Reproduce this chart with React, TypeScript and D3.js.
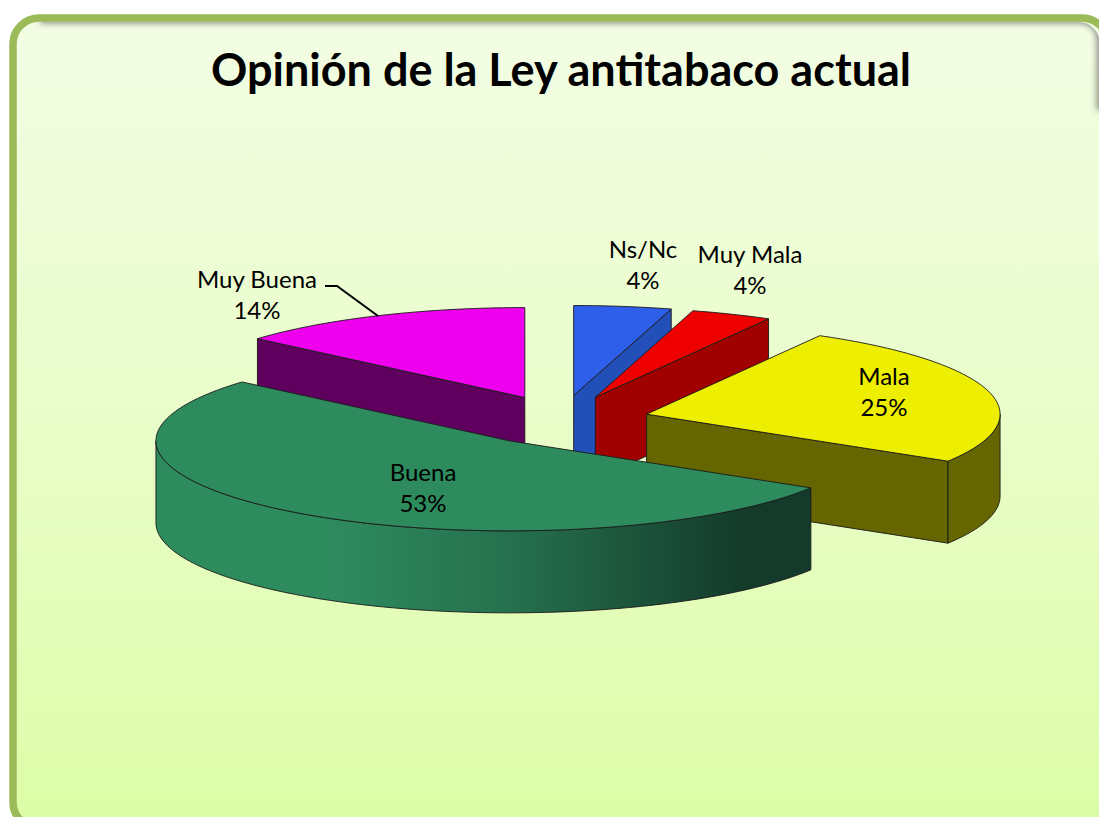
import React from "react";
import * as d3 from "d3";

const categories = ["Ns/Nc", "Muy Mala", "Mala", "Buena", "Muy Buena"];
const shownPercent = ["4%", "4%", "25%", "53%", "14%"];
const sliceValues = [4.45, 3.7, 25.6, 52.6, 13.65];
const topColors = ["#2e5fea", "#ee0000", "#eeee00", "#2e8b5e", "#ee00ee"];
const wallColors = ["#234fb8", "#a00000", "#666600", "#2e8b5e", "#5f005f"];
const drawOrder = [4, 0, 1, 2, 3];
const titleText = "Opinión de la Ley antitabaco actual";

// Projection of the tilted, exploded pie
const W = 1099, H = 817;
const CX = 561.4, CY = 420.5;
const RX = 353.5, RY = 90, DEPTH = 82;
const EX = 88, EY = 25.2;

const labelAt: Record<string, [number, number]> = {
  "Ns/Nc": [643, 258],
  "Muy Mala": [750, 263],
  "Mala": [884, 385],
  "Buena": [423, 481],
  "Muy Buena": [257, 288],
};

type Pt = [number, number];
const line = d3.line<Pt>().x(d => d[0]).y(d => d[1]);
const pie = d3.pie<number>().sort(null).startAngle(0).endAngle(2 * Math.PI);
const arcs = pie(sliceValues);

function arcSamples(a0: number, a1: number): number[] {
  const n = Math.max(2, Math.ceil(Math.abs(a1 - a0) / 0.02));
  return d3.range(n + 1).map(i => a0 + ((a1 - a0) * i) / n);
}

export default function App() {
  const faces = drawOrder.map(i => {
    const a = arcs[i];
    const mid = (a.startAngle + a.endAngle) / 2;
    const ax = CX + EX * Math.sin(mid);
    const ay = CY - EY * Math.cos(mid);
    const at = (t: number, z = 0): Pt => [ax + RX * Math.sin(t), ay - RY * Math.cos(t) + z];
    const apex: Pt = [ax, ay];
    const apexLow: Pt = [ax, ay + DEPTH];
    const top = [apex, ...arcSamples(a.startAngle, a.endAngle).map(t => at(t))];
    const cut = (t: number) => [apex, at(t), at(t, DEPTH), apexLow];

    const rimStart = Math.max(a.startAngle, Math.PI / 2);
    const rimEnd = Math.min(a.endAngle, 1.5 * Math.PI);
    const rimAngles = rimEnd > rimStart ? arcSamples(rimStart, rimEnd) : [];
    const rim = rimAngles.length
      ? [...rimAngles.map(t => at(t)), ...rimAngles.slice().reverse().map(t => at(t, DEPTH))]
      : null;

    // Only cut faces turned to the viewer are drawn
    const cuts: Pt[][] = [];
    if (a.endAngle < Math.PI) cuts.push(cut(a.endAngle));
    if (a.startAngle > Math.PI) cuts.push(cut(a.startAngle));

    return { i, top, rim, cuts };
  });

  const stroke = { stroke: "#1a1a1a", strokeWidth: 0.9, strokeLinejoin: "round" as const };
  const rowH = 31;

  return (
    <svg
      width={W}
      height={H}
      viewBox={`0 0 ${W} ${H}`}
      style={{ position: "absolute", left: 0, top: 0, display: "block" }}
    >
      <defs>
        <linearGradient id="bg" x1="0" y1="0" x2="0" y2="1">
          <stop offset="0" stopColor="#f3fde4" />
          <stop offset="0.5" stopColor="#e9fdc9" />
          <stop offset="1" stopColor="#dcfda6" />
        </linearGradient>
        <linearGradient id="rimShade" gradientUnits="userSpaceOnUse" x1="156" y1="0" x2="812" y2="0">
          <stop offset="0" stopColor="#2e8b5e" />
          <stop offset="0.27" stopColor="#2e8b5e" />
          <stop offset="0.55" stopColor="#256f4d" />
          <stop offset="0.9" stopColor="#133a2a" />
          <stop offset="1" stopColor="#133a2a" />
        </linearGradient>
        <clipPath id="inner">
          <rect x={17} y={21.7} width={1083} height={803} rx={22} />
        </clipPath>
        <filter id="soft" x="-5%" y="-5%" width="110%" height="110%">
          <feGaussianBlur stdDeviation="3.2" />
        </filter>
      </defs>

      <rect width={W} height={H} fill="#ffffff" />
      <rect x={13} y={18} width={1095} height={810} rx={26} fill="url(#bg)" stroke="#9bbb59" strokeWidth={7.5} />
      <g clipPath="url(#inner)">
        <path
          d="M 40 20 H 1078 Q 1100 20 1100 42 V 110"
          fill="none"
          stroke="#555"
          strokeWidth={6}
          strokeOpacity={0.75}
          filter="url(#soft)"
        />
        <path d="M 1100 110 V 817" fill="none" stroke="#8a9a66" strokeWidth={3} strokeOpacity={0.35} filter="url(#soft)" />
      </g>

      <text
        x={561}
        y={86}
        textAnchor="middle"
        fontFamily="Lato, 'Open Sans', sans-serif"
        fontWeight={700}
        fontSize={45}
        fill="#000"
      >
        {titleText}
      </text>

      {faces.map(f => (
        <g key={categories[f.i]}>
          {f.cuts.map((c, k) => (
            <path key={k} d={line(c) + "Z"} fill={wallColors[f.i]} {...stroke} />
          ))}
          {f.rim && (
            <path
              d={line(f.rim) + "Z"}
              fill={categories[f.i] === "Buena" ? "url(#rimShade)" : wallColors[f.i]}
              {...stroke}
            />
          )}
          <path d={line(f.top) + "Z"} fill={topColors[f.i]} {...stroke} />
        </g>
      ))}

      <path d={line([[325, 286], [337, 286], [378, 316]])!} fill="none" stroke="#000" strokeWidth={2} />

      {categories.map((c, i) => (
        <text
          key={c}
          x={labelAt[c][0]}
          y={labelAt[c][1]}
          textAnchor="middle"
          fontFamily="Lato, 'Open Sans', sans-serif"
          fontSize={24}
          fill="#000"
        >
          <tspan x={labelAt[c][0]}>{c}</tspan>
          <tspan x={labelAt[c][0]} dy={rowH}>{shownPercent[i]}</tspan>
        </text>
      ))}
    </svg>
  );
}
